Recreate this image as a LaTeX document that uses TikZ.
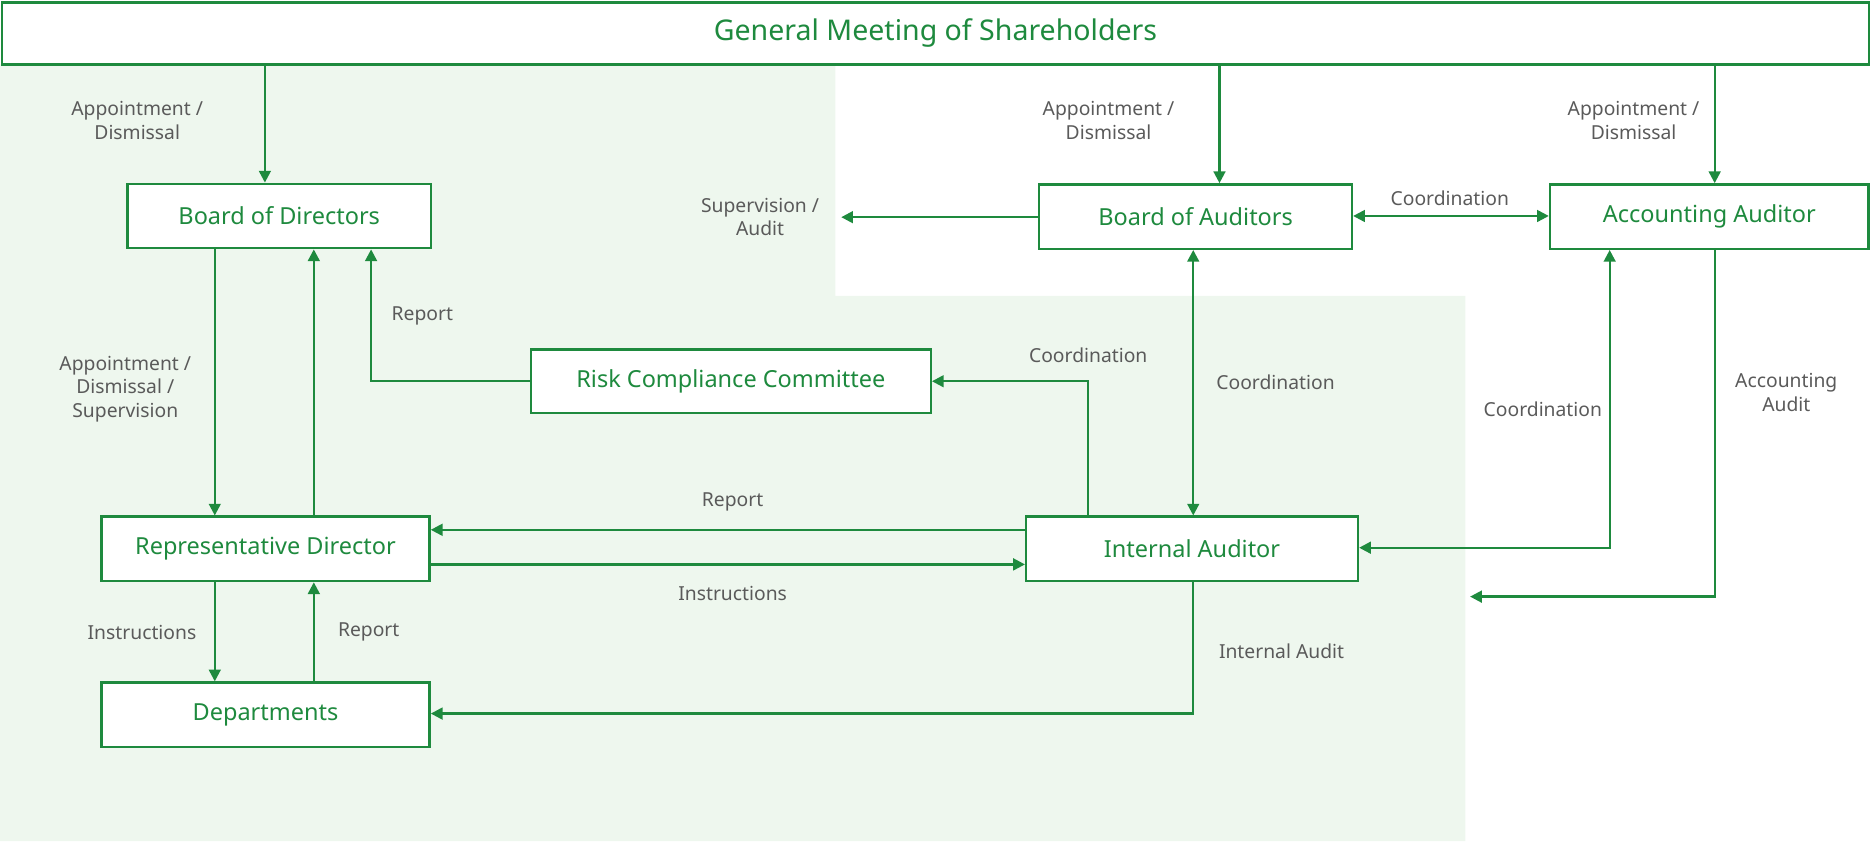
\documentclass[tikz,border=0pt]{standalone}
\usepackage{fontspec}
\setmainfont{Noto Sans}
\usetikzlibrary{arrows.meta}
\definecolor{gr}{HTML}{1E8A3E}
\definecolor{bg}{HTML}{EEF7EE}
\definecolor{tx}{HTML}{5A5A5A}
\begin{document}
\begin{tikzpicture}[x=0.025cm,y=-0.025cm,
  box/.style={draw=gr,line width=1.4pt,fill=white,text=gr,font=\fontsize{14}{16}\selectfont,inner sep=0pt,minimum height=1.35cm},
  lab/.style={text=tx,font=\fontsize{11.5}{14}\selectfont,align=center},
  ar/.style={draw=gr,line width=1.4pt,-{Triangle[length=7pt,width=7pt]}},
  dar/.style={draw=gr,line width=1.4pt,{Triangle[length=7pt,width=7pt]}-{Triangle[length=7pt,width=7pt]}}]
\useasboundingbox (0,0) rectangle (1568,705);
\fill[bg] (0,54) -- (700,54) -- (700,248) -- (1228,248) -- (1228,705) -- (0,705) -- cycle;
\node[box,minimum width=39.1cm,minimum height=1.3cm,font=\fontsize{17}{20}\selectfont] (top) at (784,28) {General Meeting of Shareholders};
\node[box,minimum width=6.35cm] (bod) at (234,181) {Board of Directors};
\node[box,minimum width=6.55cm] (boa) at (1002,181.5) {Board of Auditors};
\node[box,minimum width=6.675cm] (aa) at (1432.5,181.5) {Accounting Auditor};
\node[box,minimum width=8.375cm,minimum height=1.325cm] (risk) at (612.5,319.5) {Risk Compliance Committee};
\node[box,minimum width=6.875cm] (rd) at (222.5,460) {Representative Director};
\node[box,minimum width=6.95cm] (ia) at (999,460) {Internal Auditor};
\node[box,minimum width=6.875cm] (dep) at (222.5,599) {Departments};
\coordinate (sup) at (705,182);
\coordinate (acc) at (1232,500);
% arrows
\draw[ar] (top.south -| 222,0) -- (bod.north -| 222,0);
\draw[ar] (top.south -| 1022,0) -- (boa.north -| 1022,0);
\draw[ar] (top.south -| 1437,0) -- (aa.north -| 1437,0);
\draw[ar] (boa.west |- 0,182) -- (sup);
\draw[dar] (boa.east |- 0,181) -- (aa.west |- 0,181);
\draw[dar] (boa.south -| 1000,0) -- (ia.north -| 1000,0);
\draw[ar] (bod.south -| 180,0) -- (rd.north -| 180,0);
\draw[ar] (rd.north -| 263,0) -- (bod.south -| 263,0);
\draw[ar] (risk.west) -- (311,319.5) -- (bod.south -| 311,0);
\draw[ar] (ia.north -| 912,0) -- (912,319.5) -- (risk.east);
\draw[ar] (ia.west |- 0,444) -- (rd.east |- 0,444);
\draw[ar] (rd.east |- 0,473) -- (ia.west |- 0,473);
\draw[ar] (rd.south -| 180,0) -- (dep.north -| 180,0);
\draw[ar] (dep.north -| 263,0) -- (rd.south -| 263,0);
\draw[ar] (ia.south -| 1000,0) -- (1000,598) -- (dep.east |- 0,598);
\draw[dar] (ia.east |- 0,459) -- (1349,459) -- (aa.south -| 1349,0);
\draw[ar] (aa.south -| 1437,0) -- (1437,500) -- (acc);
% labels
\node[lab] at (115,101) {Appointment /\\Dismissal};
\node[lab] at (929,101) {Appointment /\\Dismissal};
\node[lab] at (1369,101) {Appointment /\\Dismissal};
\node[lab] at (637,182) {Supervision /\\Audit};
\node[lab] at (1215,166) {Coordination};
\node[lab] at (354,265) {Report};
\node[lab] at (105,326) {Appointment /\\Dismissal /\\Supervision};
\node[lab] at (912,298) {Coordination};
\node[lab] at (1069,320) {Coordination};
\node[lab] at (1293,343) {Coordination};
\node[lab] at (1497,329) {Accounting\\Audit};
\node[lab] at (614,421) {Report};
\node[lab] at (614,497) {Instructions};
\node[lab] at (119,530) {Instructions};
\node[lab] at (309,530) {Report};
\node[lab] at (1074,546) {Internal Audit};
\end{tikzpicture}
\end{document}
